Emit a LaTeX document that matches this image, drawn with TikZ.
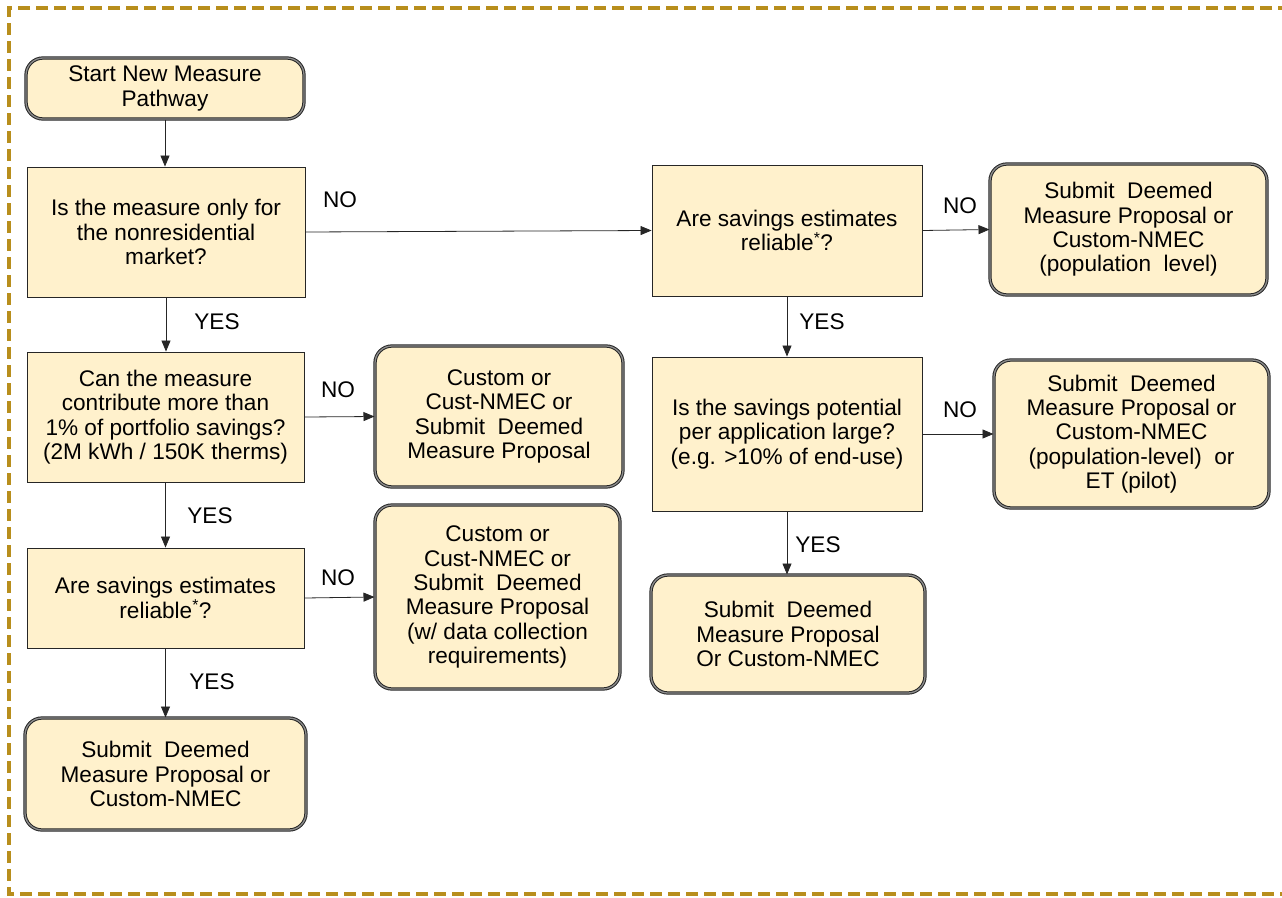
\documentclass[tikz,border=0pt]{standalone}
\usepackage{fontspec}
\setmainfont{Liberation Sans}
\usetikzlibrary{arrows.meta}
\definecolor{boxfill}{RGB}{255,241,204}
\definecolor{frameg}{RGB}{184,142,28}
\begin{document}
\begin{tikzpicture}[x=1pt,y=-1pt,
  font=\fontsize{22.6}{24.3}\selectfont,
  base/.style={align=center,inner sep=0pt,fill=boxfill},
  decision/.style={base,draw=black!85,line width=0.9pt},
  terminal/.style={base,draw=black!85,rounded corners=17pt,line width=1pt,double=black!45,double distance=1.3pt},
  conn/.style={draw=black!85,line width=0.8pt,-{Triangle[length=11pt,width=9pt]}},
  lbl/.style={inner sep=0pt}]
\useasboundingbox (0,0) rectangle (1282,897);
\draw[frameg,line width=4pt,dash pattern=on 12pt off 6pt] (1290,8) -- (9,8) -- (9,894) -- (1290,894);

\node[terminal,minimum width=278pt,minimum height=61pt] (start) at (165,88.5) {Start New Measure\\Pathway};
\node[decision,minimum width=278pt,minimum height=130pt] (q1) at (166,232) {Is the measure only for\\the nonresidential\\market?};
\node[decision,minimum width=277pt,minimum height=130pt] (q2) at (165.5,417) {Can the measure\\contribute more than\\1\% of portfolio savings?\\(2M kWh / 150K therms)};
\node[decision,minimum width=277pt,minimum height=100pt] (q3) at (165.5,598) {Are savings estimates\\reliable\textsuperscript{*}?};
\node[terminal,minimum width=281pt,minimum height=112pt] (end1) at (165.5,774) {Submit\ \ Deemed\\Measure Proposal or\\Custom-NMEC};
\node[terminal,minimum width=248pt,minimum height=141pt] (c1) at (499,416.5) {Custom or\\Cust-NMEC or\\Submit\ \ Deemed\\Measure Proposal};
\node[terminal,minimum width=245pt,minimum height=184pt] (c2) at (497.5,597) {Custom or\\Cust-NMEC or\\Submit\ \ Deemed\\Measure Proposal\\(w/ data collection\\requirements)};
\node[decision,minimum width=270pt,minimum height=131pt] (r1) at (787,230.5) {Are savings estimates\\reliable\textsuperscript{*}?};
\node[terminal,minimum width=277pt,minimum height=131pt] (r1n) at (1128.5,229.5) {Submit\ \ Deemed\\Measure Proposal or\\Custom-NMEC\\(population\ \ level)};
\node[decision,minimum width=270pt,minimum height=154pt] (r2) at (787,434) {Is the savings potential\\per application large?\\(e.g. >10\% of end-use)};
\node[terminal,minimum width=275pt,minimum height=148pt] (r2n) at (1131.5,434) {Submit\ \ Deemed\\Measure Proposal or\\Custom-NMEC\\(population-level)\ \ or\\ET (pilot)};
\node[terminal,minimum width=274pt,minimum height=118pt] (r3) at (788,634) {Submit\ \ Deemed\\Measure Proposal\\Or Custom-NMEC};

\draw[conn] (start.south) -- (start.south |- q1.north);
\draw[conn] (q1.east) -- (r1.west);
\draw[conn] (q1.south) -- (q1.south |- q2.north);
\draw[conn] (q2.east) -- (c1.west);
\draw[conn] (q2.south) -- (q2.south |- q3.north);
\draw[conn] (q3.east) -- (c2.west);
\draw[conn] (q3.south) -- (q3.south |- end1.north);
\draw[conn] (r1.east) -- (r1n.west);
\draw[conn] (r1.south) -- (r1.south |- r2.north);
\draw[conn] (r2.east) -- (r2n.west);
\draw[conn] (r2.south) -- (r2.south |- r3.north);

\node[lbl] (n1) at (340,200) {NO};
\node[lbl] (y1) at (217,322) {YES};
\node[lbl] (n2) at (338,390) {NO};
\node[lbl] (y2) at (210,516) {YES};
\node[lbl] (n3) at (338,578) {NO};
\node[lbl] (y3) at (212,682) {YES};
\node[lbl] (n4) at (960,206) {NO};
\node[lbl] (y4) at (822,322) {YES};
\node[lbl] (n5) at (960,410) {NO};
\node[lbl] (y5) at (818,545) {YES};
\end{tikzpicture}
\end{document}
